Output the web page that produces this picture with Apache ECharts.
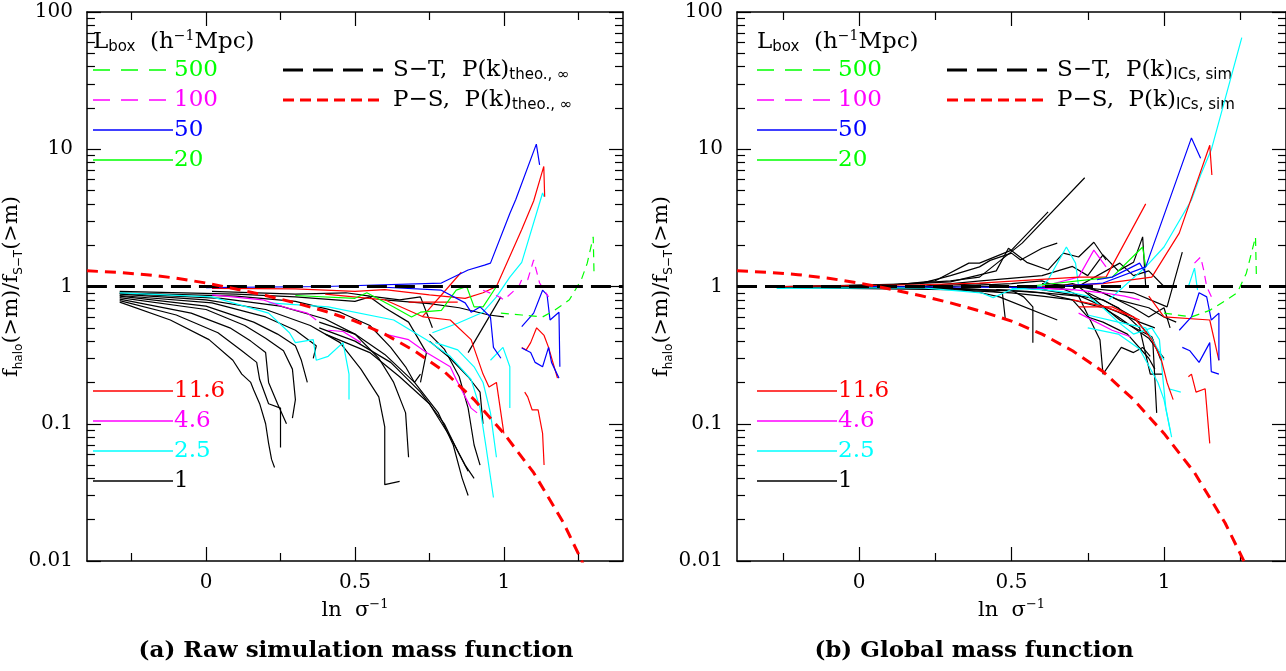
<!DOCTYPE html>
<html><head><meta charset="utf-8">
<script src="https://cdn.jsdelivr.net/npm/echarts@6/dist/echarts.min.js"></script>
<style>html,body{margin:0;padding:0;background:#fff}#c{width:1286px;height:671px}</style>
</head><body><div id="c"></div>
<script>
// ---------------- DATA ----------------
const xMajorTicks = [0, 0.5, 1];
const xMinorTicks = [-0.25, 0.25, 0.75, 1.25];
const yMajorTicks = [0.01, 0.1, 1, 10, 100];
const yMinorTicks = [0.02,0.03,0.04,0.05,0.06,0.07,0.08,0.09,0.2,0.3,0.4,0.5,0.6,0.7,0.8,0.9,2,3,4,5,6,7,8,9,20,30,40,50,60,70,80,90];
const boxSizesTop = ['500','100','50','20'];
const boxSizesBottom = ['11.6','4.6','2.5','1'];

// theory curves (same in both panels)
const stCurve = [[-0.4,1],[1.4,1]];
const psCurve = [[-0.4,1.30],[-0.3,1.27],[-0.2,1.22],[-0.1,1.15],[0,1.06],[0.1,0.96],[0.2,0.86],[0.3,0.76],[0.4,0.66],[0.5,0.56],[0.6,0.45],[0.7,0.34],[0.8,0.24],[0.9,0.15],[1.0,0.085],[1.1,0.044],[1.2,0.019],[1.26,0.0102],[1.28,0.008]];

// panel (a) raw simulation mass function
const aBlack = [
 [[-0.29,0.77],[-0.12,0.57],[0.01,0.41],[0.09,0.29],[0.12,0.23],[0.15,0.2],[0.16,0.176],[0.18,0.14],[0.2,0.1],[0.21,0.072],[0.22,0.055],[0.23,0.048]],
 [[-0.29,0.79],[-0.1,0.62],[0.04,0.46],[0.12,0.34],[0.17,0.28],[0.18,0.21],[0.21,0.14],[0.25,0.13],[0.25,0.067]],
 [[-0.29,0.81],[-0.05,0.64],[0.08,0.5],[0.15,0.4],[0.2,0.33],[0.21,0.2],[0.24,0.14],[0.27,0.1]],
 [[-0.29,0.83],[0,0.68],[0.13,0.52],[0.2,0.42],[0.26,0.34],[0.29,0.25],[0.3,0.15],[0.29,0.11]],
 [[-0.29,0.85],[0,0.72],[0.16,0.55],[0.24,0.45],[0.3,0.37],[0.32,0.29],[0.34,0.2]],
 [[-0.29,0.86],[0.02,0.76],[0.2,0.6],[0.3,0.48],[0.37,0.37],[0.36,0.3]],
 [[-0.29,0.88],[0,0.8],[0.2,0.68],[0.35,0.52],[0.45,0.39],[0.52,0.25],[0.58,0.157],[0.6,0.095],[0.6,0.036],[0.65,0.038]],
 [[-0.29,0.89],[0.05,0.82],[0.25,0.72],[0.4,0.58],[0.5,0.45],[0.58,0.3],[0.63,0.2],[0.67,0.12],[0.68,0.057]],
 [[-0.29,0.9],[0.1,0.85],[0.3,0.78],[0.45,0.65],[0.55,0.52],[0.62,0.36],[0.67,0.26],[0.7,0.2],[0.72,0.23]],
 [[-0.29,0.92],[0.1,0.88],[0.3,0.84],[0.5,0.78],[0.55,0.84],[0.6,0.7],[0.68,0.55],[0.74,0.33],[0.72,0.2]],
 [[0.02,0.92],[0.3,0.88],[0.47,0.9],[0.55,0.85],[0.65,0.8],[0.72,0.84],[0.76,0.5]],
 [[0.38,0.55],[0.5,0.45],[0.6,0.32],[0.7,0.2],[0.78,0.12],[0.83,0.07],[0.86,0.04],[0.88,0.03]],
 [[0.38,0.5],[0.5,0.4],[0.62,0.28],[0.72,0.17],[0.8,0.1],[0.85,0.06],[0.88,0.045]],
 [[0.4,0.45],[0.55,0.33],[0.65,0.22],[0.75,0.14],[0.82,0.08],[0.87,0.05],[0.9,0.04]],
 [[0.75,0.45],[0.8,0.35],[0.85,0.22],[0.88,0.13],[0.9,0.07],[0.92,0.05]],
 [[0.75,0.4],[0.82,0.3],[0.88,0.22],[0.92,0.17],[0.93,0.1]],
 [[0.88,0.33],[0.99,0.84]],
 [[0.6,0.8],[0.75,0.75],[0.85,0.7],[0.95,0.62],[1.0,0.6]]
];
const aCyan = [
 [[-0.29,0.9],[0.02,0.84],[0.21,0.64],[0.28,0.46],[0.3,0.39],[0.36,0.41],[0.37,0.29],[0.41,0.31],[0.46,0.39],[0.48,0.23],[0.48,0.15]],
 [[0.21,0.76],[0.41,0.71],[0.63,0.57],[0.74,0.41],[0.82,0.31],[0.89,0.21],[0.92,0.13],[0.94,0.068],[0.965,0.029]],
 [[0.76,0.46],[0.845,0.54],[0.93,0.65],[0.975,0.84],[1.02,1.17],[1.06,1.5],[1.13,4.8],[1.135,4.5]],
 [[0.77,0.39],[0.845,0.345],[0.9,0.26],[0.93,0.2],[0.955,0.12],[0.975,0.057]],
 [[0.955,0.29],[0.997,0.36],[1.02,0.26],[1.02,0.13]]
];
const aMagenta = [
 [[0.02,0.87],[0.19,0.8],[0.27,0.7],[0.34,0.64],[0.37,0.57]],
 [[0.41,0.48],[0.46,0.47],[0.52,0.39]],
 [[0.6,0.45],[0.68,0.41],[0.74,0.33],[0.82,0.26],[0.84,0.21],[0.89,0.13],[0.91,0.12]]
];
const aRed = [
 [[0.02,0.97],[0.3,0.96],[0.5,0.92],[0.6,0.95],[0.75,0.87],[0.87,0.82],[0.93,0.9],[0.975,1.0],[1.06,2.6],[1.1,4.2],[1.134,7.5],[1.137,4.5]],
 [[0.726,0.6],[0.857,1.27]],
 [[0.68,0.77],[0.845,0.77]],
 [[0.4,0.88],[0.6,0.8],[0.73,0.6],[0.82,0.57],[0.89,0.41],[0.93,0.23],[0.95,0.185],[0.975,0.2],[1.0,0.085]],
 [[1.07,0.17],[1.08,0.157],[1.095,0.126],[1.115,0.126],[1.13,0.085],[1.135,0.05]],
 [[1.06,0.36],[1.075,0.345],[1.09,0.39],[1.11,0.5],[1.135,0.44],[1.15,0.36],[1.18,0.215]]
];
const aGreen = [
 [[0.3,0.86],[0.5,0.82],[0.54,0.9],[0.63,0.71],[0.69,0.6],[0.72,0.65],[0.79,0.67],[0.84,0.94],[0.875,1.0],[0.9,0.71],[0.93,0.71],[0.975,1.0]]
];
const aBlue = [
 [[0.0,0.98],[0.4,1.0],[0.79,1.06],[0.88,1.32],[0.935,1.43],[0.955,1.48],[1.02,3.4],[1.04,4.3],[1.109,10.9],[1.12,7.7]],
 [[0.55,1.0],[0.79,0.94],[0.87,0.76],[0.89,0.65],[0.92,0.71],[0.955,0.6],[0.965,0.36],[0.99,0.3]],
 [[1.06,0.51],[1.1,0.64],[1.13,0.94],[1.145,0.87],[1.155,0.57],[1.185,0.65],[1.188,0.26]],
 [[1.06,0.356],[1.09,0.33],[1.105,0.28],[1.13,0.26],[1.15,0.36],[1.16,0.28],[1.185,0.215]]
];
const aMagentaDash = [
 [[0.93,0.94],[0.98,0.85],[1.0,0.8],[1.05,1.0],[1.06,1.12],[1.08,1.12],[1.1,1.56],[1.12,1.06],[1.15,0.84]]
];
const aGreenDash = [
 [[0.99,0.64],[1.06,0.62],[1.13,0.6],[1.17,0.67],[1.22,0.8],[1.26,1.12],[1.28,1.48],[1.3,2.3],[1.303,1.17]]
];

// panel (b) global mass function
const bBlack = [
 [[-0.25,1.0],[0.1,1.02],[0.25,1.1],[0.36,1.48],[0.395,1.48],[0.5,1.84],[0.62,3.5]],
 [[-0.25,1.0],[0.1,1.03],[0.3,1.1],[0.395,1.17],[0.535,2.07],[0.74,6.2]],
 [[-0.2,1.0],[0.2,1.05],[0.3,1.2],[0.395,1.39],[0.43,1.55],[0.5,1.75],[0.53,1.56],[0.6,1.9],[0.65,2.07]],
 [[0.0,1.0],[0.3,1.08],[0.45,1.3],[0.49,1.9],[0.55,1.5],[0.62,1.32],[0.67,1.75],[0.72,1.64],[0.77,2.1],[0.81,1.56]],
 [[0.2,1.0],[0.4,1.1],[0.6,1.2],[0.7,1.4],[0.75,1.2],[0.8,1.7],[0.85,1.3],[0.9,1.5],[0.93,2.3],[0.94,1.0]],
 [[0.5,1.0],[0.7,0.95],[0.855,1.48],[0.9,1.2],[0.95,1.3],[1.0,1.0]],
 [[0.7,1.0],[0.9,0.9],[1.01,0.71],[1.06,1.78]],
 [[-0.25,1.0],[0.2,1.0],[0.4,0.95],[0.47,0.9],[0.48,0.57]],
 [[-0.25,0.99],[0.2,0.98],[0.4,0.94],[0.5,0.94],[0.54,0.84],[0.57,0.71],[0.57,0.39]],
 [[-0.25,1.0],[0.3,0.98],[0.4,0.9],[0.46,0.84],[0.65,0.57]],
 [[-0.25,0.98],[0.3,0.95],[0.5,0.9],[0.6,0.85],[0.7,0.8],[0.8,0.7],[0.85,0.6],[0.9,0.5],[0.95,0.42],[1.0,0.3]],
 [[-0.25,0.99],[0.3,0.97],[0.55,0.92],[0.72,0.85],[0.79,0.41],[0.8,0.23],[0.86,0.36],[0.9,0.33],[0.93,0.36],[0.955,0.31]],
 [[0.4,1.0],[0.72,1.0],[0.855,0.57],[0.96,0.43],[0.99,0.29]],
 [[0.6,0.95],[0.8,0.8],[0.9,0.6],[0.963,0.41],[0.976,0.12]],
 [[0.75,0.9],[0.85,0.7],[0.92,0.5],[0.955,0.23],[0.995,0.23]],
 [[0.3,1.0],[0.5,1.05],[0.6,1.1],[0.7,0.9],[0.78,0.75],[0.85,0.65],[0.92,0.55],[0.97,0.5]],
 [[0.45,0.95],[0.6,0.9],[0.7,0.8],[0.75,0.6],[0.8,0.55],[0.88,0.45],[0.95,0.3],[0.97,0.25]],
 [[0.2,1.0],[0.4,1.05],[0.6,0.95],[0.7,1.05],[0.8,0.9],[0.9,0.7],[0.95,0.6],[1.0,0.7],[1.02,0.5]],
 [[0.6,1.05],[0.75,1.0],[0.85,0.8],[0.95,0.7],[1.0,0.6],[1.04,0.55]]
];
const bCyan = [
 [[0.82,0.8],[0.94,1.39],[1.0,1.94],[1.09,4.27],[1.12,6.5],[1.155,9.9],[1.255,65]],
 [[0.75,0.5],[0.85,0.45],[0.92,0.35],[0.98,0.2],[1.0,0.15],[1.02,0.09]],
 [[-0.27,0.97],[0.2,0.98],[0.4,0.9],[0.44,0.83],[0.5,0.95],[0.6,1.0],[0.62,1.12],[0.68,1.94],[0.71,1.48],[0.72,1.0]],
 [[1.08,1.0],[1.1,1.36],[1.11,0.94]],
 [[0.75,0.62],[0.85,0.55],[0.94,0.5],[1.0,0.29]],
 [[0.5,0.97],[0.6,0.95],[0.7,0.9],[0.75,0.85],[0.8,0.7],[0.85,0.55],[0.9,0.45],[0.96,0.5],[0.985,0.41],[0.995,0.23],[1.006,0.13],[1.025,0.08]],
 [[1.015,0.18],[1.055,0.17]]
];
const bMagenta = [
 [[0.6,1.0],[0.72,1.17],[0.77,1.84],[0.81,1.39]],
 [[0.72,0.64],[0.83,0.48],[0.89,0.43]],
 [[0.55,0.98],[0.7,0.95],[0.8,0.9],[0.87,0.85],[0.92,0.8]]
];
const bRed = [
 [[-0.25,1.0],[0.2,1.03],[0.395,1.06],[0.72,1.17],[0.81,1.17],[0.94,4.0]],
 [[0.6,1.0],[0.8,1.05],[0.96,1.17],[1.05,2.45],[1.15,10.7],[1.157,6.5]],
 [[1.08,0.22],[1.09,0.23],[1.105,0.17],[1.135,0.18],[1.15,0.072]],
 [[0.95,0.85],[1.0,0.6],[1.15,0.57],[1.18,0.29]],
 [[0.72,0.71],[0.83,0.71],[0.92,0.57]],
 [[0.7,0.8],[0.8,0.72],[0.9,0.6],[0.96,0.41],[0.99,0.3],[1.01,0.2],[1.03,0.15]]
];
const bGreen = [
 [[0.55,1.0],[0.83,1.17],[0.93,1.94],[0.94,1.39]]
];
const bBlue = [
 [[0.0,1.0],[0.6,0.98],[0.8,1.06],[0.94,1.39],[1.09,12.1],[1.12,8.6]],
 [[1.05,0.48],[1.09,0.6],[1.115,0.9],[1.14,0.84],[1.155,0.57],[1.18,0.64],[1.18,0.29]],
 [[1.06,0.36],[1.085,0.34],[1.115,0.28],[1.15,0.39],[1.155,0.24],[1.18,0.23]],
 [[0.78,1.12],[0.83,1.17],[0.92,1.48],[0.94,1.25]]
];
const bMagentaDash = [
 [[1.1,1.48],[1.12,1.64],[1.13,1.32],[1.14,1.0],[1.16,0.8]]
];
const bGreenDash = [
 [[1.0,0.64],[1.09,0.6],[1.15,0.67],[1.205,0.8],[1.24,0.9],[1.27,1.25],[1.3,2.3],[1.303,1.17]]
];

// ---------------- STYLE / LAYOUT ----------------
const SERIF = '"DejaVu Serif","Liberation Serif",serif';
const SANS = '"DejaVu Sans",sans-serif';
const COL = {'500':'#00ff00','100':'#ff00ff','50':'#0000ff','20':'#00ff00','11.6':'#ff0000','4.6':'#ff00ff','2.5':'#00ffff','1':'#000000'};
const DASHED = {'500':true,'100':true};

const grids = [
  {left:73, top:12, width:550, height:549},
  {left:737, top:12, width:549, height:549}
];
const axLine = {color:'#000', width:1.5};
const tickStyle = {color:'#000', width:1.2};
function xAxes(g){
  const base = {type:'value', gridIndex:g, min:-0.4, max:1.4, splitLine:{show:false}};
  return [
    Object.assign({}, base, {position:'bottom', axisLine:{show:true,onZero:false,lineStyle:axLine},
      axisTick:{show:true,inside:true,length:14,customValues:xMajorTicks,lineStyle:tickStyle},
      axisLabel:{show:true,customValues:xMajorTicks,margin:12,color:'#000',fontFamily:SERIF,fontSize:20},
      name:'{n|ln  σ}{p|−1}', nameLocation:'middle', nameGap:34,
      nameTextStyle:{color:'#000',rich:{n:{fontFamily:SERIF,fontSize:21,lineHeight:26,color:'#000'},p:{fontFamily:SERIF,fontSize:13,lineHeight:12,verticalAlign:'top',color:'#000'}}}}),
    Object.assign({}, base, {position:'bottom', axisLine:{show:false,onZero:false},
      axisTick:{show:true,inside:true,length:8,customValues:xMinorTicks,lineStyle:tickStyle},
      axisLabel:{show:false}}),
    Object.assign({}, base, {position:'top', axisLine:{show:true,onZero:false,lineStyle:axLine},
      axisTick:{show:true,inside:true,length:14,customValues:xMajorTicks,lineStyle:tickStyle},
      axisLabel:{show:false}}),
    Object.assign({}, base, {position:'top', axisLine:{show:false,onZero:false},
      axisTick:{show:true,inside:true,length:8,customValues:xMinorTicks,lineStyle:tickStyle},
      axisLabel:{show:false}})
  ];
}
function yAxes(g){
  const base = {type:'log', logBase:10, gridIndex:g, min:0.01, max:100, splitLine:{show:false}, minorSplitLine:{show:false}};
  return [
    Object.assign({}, base, {position:'left', axisLine:{show:true,onZero:false,lineStyle:axLine},
      axisTick:{show:true,inside:true,length:14,customValues:yMajorTicks,lineStyle:tickStyle},
      axisLabel:{show:true,customValues:yMajorTicks,margin:14,color:'#000',fontFamily:SERIF,fontSize:20,
        formatter:function(v){return String(+Number(v).toPrecision(3));}},
      name:'{n|f}{s|halo}{n|(>m)/f}{s|S−T}{n|(>m)}', nameLocation:'middle', nameGap:40, nameRotate:90,
      nameTextStyle:{color:'#000',rich:{n:{fontFamily:SERIF,fontSize:21,lineHeight:26,color:'#000'},s:{fontFamily:SANS,fontSize:12,lineHeight:12,verticalAlign:'bottom',color:'#000'}}}}),
    Object.assign({}, base, {position:'left', axisLine:{show:false,onZero:false},
      axisTick:{show:true,inside:true,length:8,customValues:yMinorTicks,lineStyle:tickStyle},
      axisLabel:{show:false}}),
    Object.assign({}, base, {position:'right', axisLine:{show:true,onZero:false,lineStyle:axLine},
      axisTick:{show:true,inside:true,length:14,customValues:yMajorTicks,lineStyle:tickStyle},
      axisLabel:{show:false}}),
    Object.assign({}, base, {position:'right', axisLine:{show:false,onZero:false},
      axisTick:{show:true,inside:true,length:8,customValues:yMinorTicks,lineStyle:tickStyle},
      axisLabel:{show:false}})
  ];
}
function mk(curves, name, color, panel, dash){
  return curves.map(function(c){
    return {type:'line', name:name, xAxisIndex:panel*4, yAxisIndex:panel*4, data:c,
      symbol:'none', showSymbol:false, silent:true, animation:false, clip:true,
      emphasis:{disabled:true},
      itemStyle:{color:color},
      lineStyle:{color:color, width:1.2, type: dash || 'solid'}};
  });
}
function theory(panel){
  return [
    {type:'line', name:'S-T', xAxisIndex:panel*4, yAxisIndex:panel*4, data:stCurve, symbol:'none', silent:true, animation:false, z:5,
     emphasis:{disabled:true}, itemStyle:{color:'#000'}, lineStyle:{color:'#000', width:3, type:[20,8]}},
    {type:'line', name:'P-S', xAxisIndex:panel*4, yAxisIndex:panel*4, data:psCurve, symbol:'none', silent:true, animation:false, clip:true, z:5,
     emphasis:{disabled:true}, itemStyle:{color:'#ff0000'}, lineStyle:{color:'#ff0000', width:3, type:[11,7]}}
  ];
}
function panelSeries(p, d){
  return [].concat(
    mk(d.black,'1','#000000',p),
    mk(d.cyan,'2.5','#00ffff',p),
    mk(d.magenta,'4.6','#ff00ff',p),
    mk(d.red,'11.6','#ff0000',p),
    mk(d.green,'20','#00ff00',p),
    mk(d.blue,'50','#0000ff',p),
    mk(d.magentaDash,'100','#ff00ff',p,[8,6]),
    mk(d.greenDash,'500','#00ff00',p,[8,6]),
    theory(p)
  );
}
const series = [].concat(
  panelSeries(0,{black:aBlack,cyan:aCyan,magenta:aMagenta,red:aRed,green:aGreen,blue:aBlue,magentaDash:aMagentaDash,greenDash:aGreenDash}),
  panelSeries(1,{black:bBlack,cyan:bCyan,magenta:bMagenta,red:bRed,green:bGreen,blue:bBlue,magentaDash:bMagentaDash,greenDash:bGreenDash})
);

// ---------------- KEY (legend drawn as graphic samples + text) ----------------
function keyBlock(names, x0, yStart){
  const out = [];
  names.forEach(function(n, i){
    const y = yStart + i*30;
    out.push({type:'line', silent:true, shape:{x1:x0, y1:y, x2:x0+80, y2:y},
      style:{stroke:COL[n], lineWidth:1.5, lineDash: DASHED[n] ? [17,11] : null}});
    out.push({type:'text', silent:true, x:x0+81, y:y, style:{text:n, fill:COL[n], font:'23px '+SERIF, textAlign:'left', verticalAlign:'middle'}});
  });
  return out;
}
function theoryKey(x0, sub){
  const rich = {n:{fontFamily:SERIF,fontSize:23,lineHeight:26,fill:'#000'}, s:{fontFamily:SANS,fontSize:15,lineHeight:12,verticalAlign:'bottom',fill:'#000'}};
  return [
    {type:'line', silent:true, shape:{x1:x0, y1:70, x2:x0+100, y2:70}, style:{stroke:'#000', lineWidth:3, lineDash:[20,10]}},
    {type:'text', silent:true, x:x0+110, y:70, style:{text:'{n|S−T,  P(k)}{s|'+sub+'}', rich:rich, textAlign:'left', verticalAlign:'middle'}},
    {type:'line', silent:true, shape:{x1:x0, y1:100, x2:x0+100, y2:100}, style:{stroke:'#ff0000', lineWidth:3, lineDash:[11,6]}},
    {type:'text', silent:true, x:x0+110, y:100, style:{text:'{n|P−S,  P(k)}{s|'+sub+'}', rich:rich, textAlign:'left', verticalAlign:'middle'}}
  ];
}
function headerText(x){
  return {type:'text', x:x, y:42, silent:true, style:{
    text:'{n|L}{s|box}{n|  (h}{p|−1}{n|Mpc)}', verticalAlign:'middle', textAlign:'left',
    rich:{n:{fontFamily:SERIF,fontSize:23,lineHeight:26,fill:'#000'}, s:{fontFamily:SANS,fontSize:15,lineHeight:12,verticalAlign:'bottom',fill:'#000'}, p:{fontFamily:SERIF,fontSize:14,lineHeight:12,verticalAlign:'top',fill:'#000'}}}};
}
function caption(x, txt){
  return {type:'text', x:x, y:651, silent:true, style:{text:txt, textAlign:'center', verticalAlign:'middle',
    font:'bold 23px '+SERIF, fill:'#000'}};
}
const graphics = [].concat(
  [headerText(93), headerText(757)],
  keyBlock(boxSizesTop, 93, 70), keyBlock(boxSizesBottom, 93, 391), theoryKey(283, 'theo., ∞'),
  keyBlock(boxSizesTop, 757, 70), keyBlock(boxSizesBottom, 757, 391), theoryKey(947, 'ICs, sim'),
  [caption(356, '(a) Raw simulation mass function'), caption(974, '(b) Global mass function')]
);

const option = {
  backgroundColor:'#fff',
  animation:false,
  grid: grids,
  xAxis: [].concat(xAxes(0), xAxes(1)),
  yAxis: [].concat(yAxes(0), yAxes(1)),
  series: series,
  graphic: graphics
};
const chart = echarts.init(document.getElementById('c'), null, {renderer:'canvas'});
chart.setOption(option);
</script></body></html>
